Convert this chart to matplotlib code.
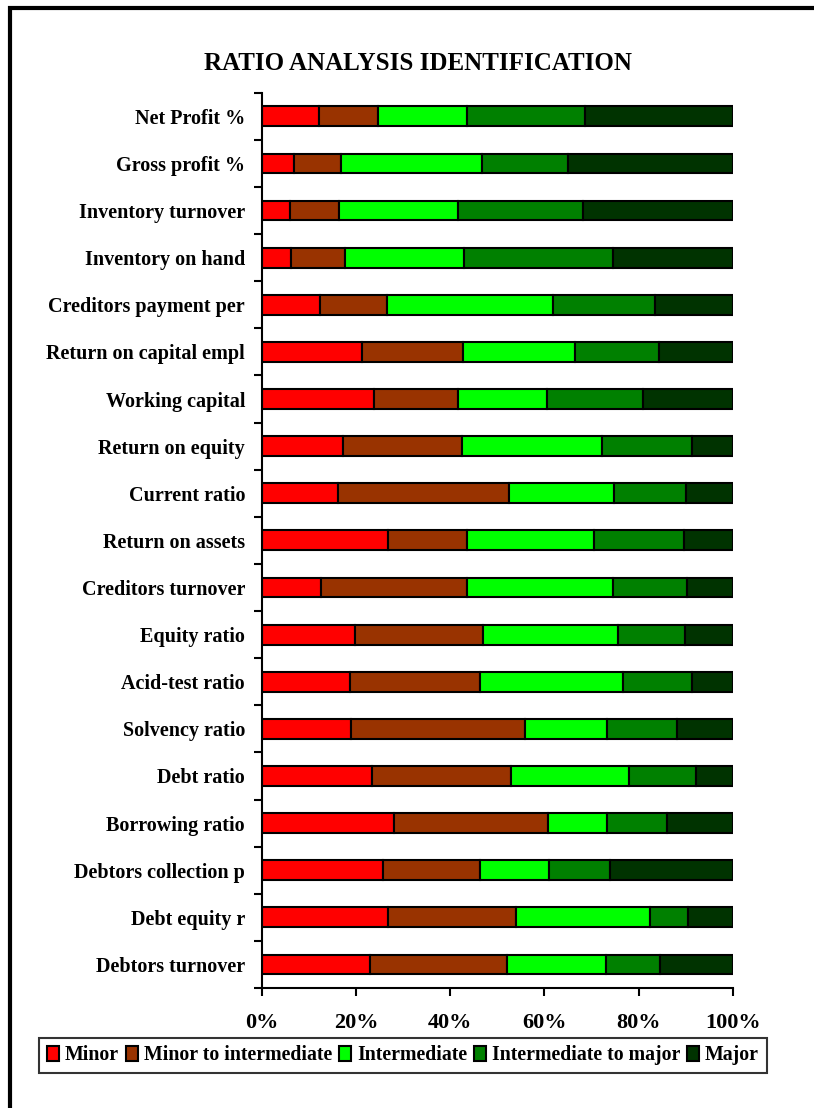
import matplotlib
matplotlib.use("Agg")
import matplotlib.pyplot as plt
from matplotlib.patches import Rectangle
import numpy as np

plt.rcParams['font.family'] = ['Liberation Serif', 'DejaVu Serif']
plt.rcParams['font.weight'] = 'bold'

# ratios, top to bottom
ratios = ["Net Profit %", "Gross profit %", "Inventory turnover", "Inventory on hand",
          "Creditors payment per", "Return on capital empl", "Working capital",
          "Return on equity", "Current ratio", "Return on assets", "Creditors turnover",
          "Equity ratio", "Acid-test ratio", "Solvency ratio", "Debt ratio",
          "Borrowing ratio", "Debtors collection p", "Debt equity r", "Debtors turnover"]

# share of answers per level (%)
minor = [12.2, 6.9, 5.9, 6.2, 12.4, 21.3, 23.9, 17.3, 16.1, 26.8, 12.5, 19.9, 18.7, 19.0, 23.3, 28.1, 25.8, 26.9, 23.0]
minor_inter = [12.5, 9.9, 10.4, 11.5, 14.1, 21.5, 17.8, 25.1, 36.3, 16.7, 31.1, 27.1, 27.6, 36.8, 29.7, 32.7, 20.5, 27.1, 29.0]
intermediate = [18.9, 30.0, 25.4, 25.3, 35.4, 23.7, 18.9, 29.9, 22.4, 26.9, 31.0, 28.6, 30.4, 17.5, 25.0, 12.5, 14.7, 28.4, 21.0]
inter_major = [24.9, 18.1, 26.5, 31.6, 21.6, 17.9, 20.2, 18.9, 15.2, 19.3, 15.6, 14.3, 14.5, 14.8, 14.1, 12.6, 13.0, 8.0, 11.5]
major = [31.5, 35.1, 31.8, 25.4, 16.5, 15.6, 19.2, 8.8, 10.0, 10.3, 9.8, 10.1, 8.8, 11.9, 7.9, 14.1, 26.0, 9.6, 15.5]

levels = ["Minor", "Minor to intermediate", "Intermediate", "Intermediate to major", "Major"]
colors = ["#FF0000", "#993300", "#00FF00", "#008000", "#003300"]
series = [minor, minor_inter, intermediate, inter_major, major]

fig = plt.figure(figsize=(8.14, 11.08), dpi=100)
ax = fig.add_axes([0.3215, 0.1083, 0.579, 0.808])

y = np.arange(len(ratios))
left = np.zeros(len(ratios))
handles = []
for vals, col, name in zip(series, colors, levels):
    v = np.array(vals)
    b = ax.barh(y, v, left=left, height=0.42, color=col, edgecolor="black",
                linewidth=1.5, label=name)
    handles.append(b)
    left += v

ax.set_xlim(0, 100)
ax.set_ylim(len(ratios) - 0.5, -0.5)
ax.set_xticks(np.arange(0, 101, 20))
ax.set_xticklabels([f"{t}%" for t in range(0, 101, 20)], fontsize=16, fontweight="bold")
ax.set_yticks(y)
ax.set_yticklabels(ratios, fontsize=14.5, fontweight="bold")
ax.set_yticks(np.arange(-0.5, len(ratios)), minor=True)
ax.tick_params(axis="y", which="major", length=0, pad=12)
ax.tick_params(axis="y", which="minor", length=6, width=1.5, direction="out")
ax.tick_params(axis="x", length=6, width=1.5, direction="out", pad=12)
for s in ["top", "right"]:
    ax.spines[s].set_visible(False)
for s in ["left", "bottom"]:
    ax.spines[s].set_linewidth(1.5)

fig.text(0.514, 0.943, "RATIO ANALYSIS IDENTIFICATION", ha="center", va="center",
         fontsize=18, fontweight="bold")

leg = fig.legend(handles=handles, labels=levels, loc="center", ncol=5,
                 bbox_to_anchor=(0.495, 0.0474), fontsize=14.3, frameon=True,
                 fancybox=False, edgecolor="black", handlelength=0.6,
                 handleheight=0.8, handletextpad=0.3, columnspacing=0.35,
                 borderpad=0.4, borderaxespad=0)
leg.get_frame().set_linewidth(1.5)

# outer chart border
fig.patches.append(Rectangle((0.0117, -0.05), 1.2, 0.9932 + 0.05, transform=fig.transFigure,
                             fill=False, edgecolor="black", linewidth=3))

fig.savefig("out.png", dpi=100)
